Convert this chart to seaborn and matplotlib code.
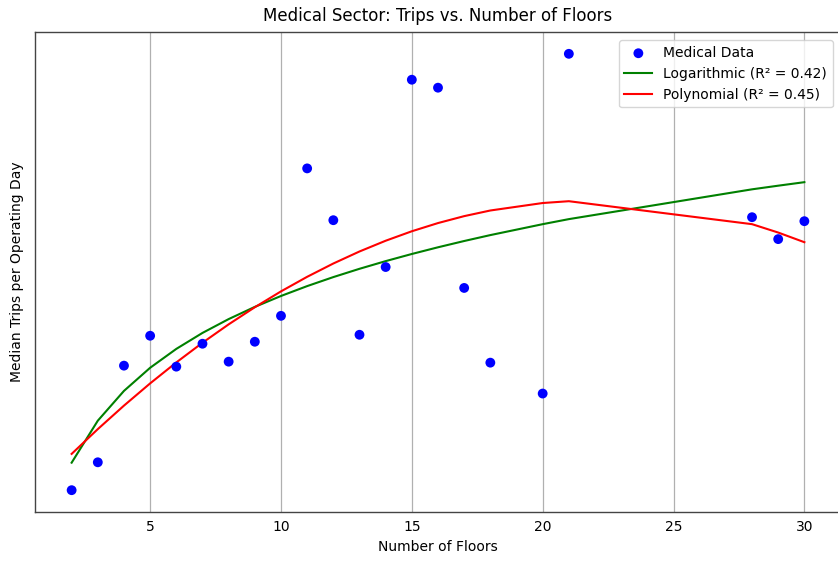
import numpy as np
import pandas as pd
import matplotlib
matplotlib.use("Agg")
import matplotlib.pyplot as plt
import seaborn as sns

floors = [2, 3, 4, 5, 6, 7, 8, 9, 10, 11, 12, 13, 14, 15, 16, 17, 18, 20, 21, 28, 29, 30]
trips = [22, 50, 147, 177, 146, 169, 151, 171, 197, 345, 293, 178, 246, 434, 426, 225, 150, 119, 460, 296, 274, 292]

x = np.array(floors, dtype=float)
y = np.array(trips, dtype=float)

# logarithmic fit
b, a = np.polyfit(np.log(x), y, 1)
y_log = a + b * np.log(x)
# polynomial fit
p = np.polyfit(x, y, 2)
y_poly = np.polyval(p, x)

df = pd.DataFrame({"floors": x, "trips": y, "log": y_log, "poly": y_poly})

fig = plt.figure(figsize=(8.38, 5.63), dpi=100)
ax = fig.add_axes([35 / 838, 51 / 563, 806 / 838, 480 / 563])

sns.scatterplot(data=df, x="floors", y="trips", color="blue", s=50, edgecolor="none",
                label="Medical Data", ax=ax, zorder=3)
sns.lineplot(data=df, x="floors", y="log", color="green", lw=1.5,
             label="Logarithmic (R\u00b2 = 0.42)", ax=ax)
sns.lineplot(data=df, x="floors", y="poly", color="red", lw=1.5,
             label="Polynomial (R\u00b2 = 0.45)", ax=ax)

ax.set_title("Medical Sector: Trips vs. Number of Floors", fontsize=12, pad=8)
ax.set_xlabel("Number of Floors", fontsize=10)
ax.set_ylabel("Median Trips per Operating Day", fontsize=10, labelpad=8)
ax.set_yticks([])
ax.set_xticks([5, 10, 15, 20, 25, 30])
ax.tick_params(axis="x", length=0, labelsize=10, pad=6)
ax.grid(axis="x", color="#b0b0b0", lw=0.9)
for s in ax.spines.values():
    s.set_color("#444444")
    s.set_linewidth(1.0)
ax.legend(loc="upper right", fontsize=10, borderaxespad=0.6)

fig.savefig("out.png", dpi=100)
